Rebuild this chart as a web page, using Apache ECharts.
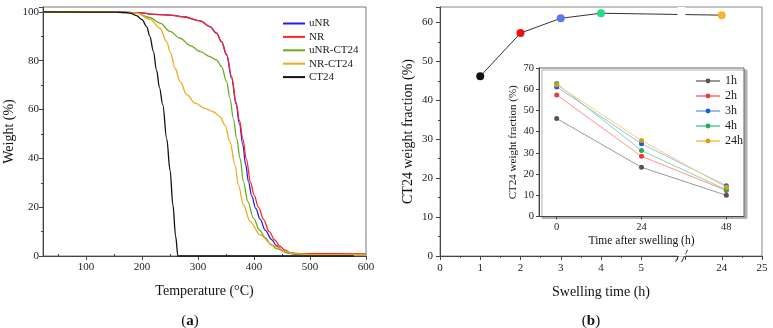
<!DOCTYPE html>
<html>
<head>
<meta charset="utf-8">
<script src="https://cdn.jsdelivr.net/npm/echarts@6.0.0/dist/echarts.min.js"></script>
<style>
  html, body { margin: 0; padding: 0; background: #fff; }
  #chart { width: 773px; height: 328px; }
</style>
</head>
<body>
<div id="chart"></div>
<script>
// (a) TGA curves, [temperature °C, weight %]
const tgaUNR = [[23, 100], [150, 100], [200, 99.6], [214, 99.1], [250, 98.7], [274, 98], [304, 96.3], [321, 94], [333, 91.3], [342, 87.8], [351, 82.4], [360, 72.8], [368, 62], [374, 54], [380, 45.5], [385, 37.5], [390, 30.5], [396, 24.5], [403, 19.5], [411, 15], [420, 10.5], [432, 6.6], [440, 4.2], [449, 2.5], [460, 1.3], [475, 0.7], [600, 0.6]]
const tgaNR = [[23, 100], [150, 100], [200, 99.6], [214, 99.1], [250, 98.7], [274, 98], [304, 96.3], [321, 94], [333, 91.3], [342, 87.8], [351, 82.6], [360, 73.5], [368, 63], [374, 55.5], [380, 48], [386, 40], [394, 30], [400, 25], [408, 20], [417, 15], [427, 10], [437, 6.6], [446, 4], [455, 2.5], [465, 1.3], [480, 1.0], [600, 0.9]]
const tgaUNRCT24 = [[23, 100], [150, 99.9], [190, 99.5], [214, 97.7], [232, 95.4], [250, 92], [268, 89.2], [286, 86.2], [304, 83.7], [321, 81.7], [333, 80.3], [342, 77.6], [351, 71.4], [357, 64.6], [363, 56.4], [369, 48.2], [375, 40], [381, 30.5], [389, 22.3], [399, 15.5], [410, 10.5], [420, 7.5], [430, 4.8], [440, 3], [458, 1.5], [470, 0.9], [500, 0.6], [600, 0.5]]
const tgaNRCT24 = [[23, 100], [150, 99.9], [190, 99.5], [214, 97], [232, 93.3], [244, 87.8], [250, 83.7], [259, 76.9], [268, 71.4], [280, 66], [295, 62.6], [312, 60.5], [327, 59.1], [339, 57.1], [348, 53.7], [357, 46.8], [366, 37.3], [372, 29.1], [381, 20.9], [393, 14.1], [411, 8.6], [434, 4.2], [458, 1.8], [470, 1.0], [500, 0.6], [600, 0.5]]
const tgaCT24 = [[23, 100], [150, 99.9], [170, 99.7], [180, 99.4], [190, 98.5], [200, 96.8], [208, 94], [214, 90], [220, 84], [226, 76], [231, 69], [237, 62], [244, 48], [250, 35], [255, 21], [260, 8], [264, 0], [300, 0], [400, 0], [500, 0], [578, 0]]
const tgaNames = ['uNR', 'NR', 'uNR-CT24', 'NR-CT24', 'CT24']
const tgaColors = ['#1f1fe8', '#ff2424', '#6aaa22', '#f0aa20', '#111111']
const tempLabels = [100, 200, 300, 400, 500, 600]
const tempMinor = [50, 150, 250, 350, 450, 550]

// (b) CT24 weight fraction vs swelling time
const swellHours = [1, 2, 3, 4, 24]
const ct24Fraction = [46.2, 57.3, 61.1, 62.4, 61.9]
const swellColors = ['#111111', '#f01010', '#5a78f0', '#22dd88', '#f5b52a']

// inset: fraction vs time after swelling
const afterHours = [0, 24, 48]
const after1h = [46.2, 23.2, 10.0]
const after2h = [57.3, 28.4, 12.3]
const after3h = [61.1, 34.3, 14.5]
const after4h = [62.7, 31.1, 12.6]
const after24h = [62.1, 35.8, 13.8]
const insetNames = ['1h', '2h', '3h', '4h', '24h']
const insetDots = ['#555555', '#f03a3a', '#1a5ee0', '#22aa66', '#d4a012']
const insetLines = ['#9a9a9a', '#ff9090', '#9dbcf0', '#86d8aa', '#f2d27a']

const font = 'Liberation Serif'
const chart = echarts.init(document.getElementById('chart'))

const tgaSeries = [tgaUNR, tgaNR, tgaUNRCT24, tgaNRCT24, tgaCT24].map((d, i) => ({
  name: tgaNames[i],
  type: 'line',
  xAxisIndex: 0,
  yAxisIndex: 0,
  data: d,
  symbol: 'none',
  smooth: 0.35,
  smoothMonotone: 'x',
  lineStyle: { color: tgaColors[i], width: 1.3 },
  itemStyle: { color: tgaColors[i] },
  z: 3
}))

// inset sits above the break band of the main time axis
const insetZ = 150
const insetSeries = [after1h, after2h, after3h, after4h, after24h].map((vals, i) => ({
  name: insetNames[i],
  type: 'line',
  xAxisIndex: 3,
  yAxisIndex: 2,
  data: afterHours.map((h, k) => [h, vals[k]]),
  symbol: 'circle',
  symbolSize: 5,
  lineStyle: { color: insetLines[i], width: 1 },
  itemStyle: { color: insetDots[i] },
  z: insetZ + 2
}))

const axisText = { color: '#222', fontFamily: font, fontSize: 11 }
const nameText = { color: '#111', fontFamily: font, fontSize: 14 }

chart.setOption({
  animation: false,
  textStyle: { fontFamily: font },
  title: [
    { text: '({a|a})', left: 185, top: 316, textAlign: 'center', textVerticalAlign: 'middle',
      textStyle: { fontSize: 15, fontWeight: 'normal', color: '#111', fontFamily: font, rich: { a: { fontSize: 15, fontWeight: 'bold', fontFamily: font } } } },
    { text: '({a|b})', left: 586, top: 316, textAlign: 'center', textVerticalAlign: 'middle',
      textStyle: { fontSize: 15, fontWeight: 'normal', color: '#111', fontFamily: font, rich: { a: { fontSize: 15, fontWeight: 'bold', fontFamily: font } } } }
  ],
  legend: [
    {
      data: tgaNames, orient: 'vertical', left: 278, top: 13,
      icon: 'rect', itemWidth: 22, itemHeight: 2, itemGap: 2.4,
      textStyle: { fontFamily: font, fontSize: 11, color: '#222', padding: [0, 0, 0, -1] }
    },
    {
      data: insetNames, orient: 'vertical', left: 690, top: 70,
      itemWidth: 24, itemHeight: 6, itemGap: 3,
      textStyle: { fontFamily: font, fontSize: 12, color: '#222' }, z: insetZ + 3
    }
  ],
  grid: [
    { left: 43, top: 7, width: 323, height: 249, show: true, borderColor: '#777', borderWidth: 1, backgroundColor: 'transparent' },
    { left: 440, top: 7, width: 322, height: 249, show: true, borderColor: '#888', borderWidth: 1, backgroundColor: 'transparent' },
    { left: 539, top: 68, width: 205, height: 148.5, show: true, borderColor: '#666', borderWidth: 1, backgroundColor: '#fff',
      shadowColor: '#b0b0b0', shadowOffsetX: 3, shadowOffsetY: 2, shadowBlur: 0, z: insetZ }
  ],
  xAxis: [
    {
      type: 'value', gridIndex: 0, min: 23, max: 600,
      name: 'Temperature (°C)', nameLocation: 'middle', nameGap: 28, nameTextStyle: nameText,
      axisLine: { onZero: false, lineStyle: { color: '#444' } },
      axisTick: { customValues: tempLabels, length: 4, lineStyle: { color: '#444' } },
      axisLabel: { customValues: tempLabels, margin: 6, ...axisText },
      splitLine: { show: false }
    },
    {
      type: 'value', gridIndex: 0, min: 23, max: 600,
      axisLine: { show: false },
      axisTick: { customValues: tempMinor, length: 2, lineStyle: { color: '#444' } },
      axisLabel: { show: false },
      splitLine: { show: false }
    },
    {
      type: 'value', gridIndex: 1, min: 0, max: 25, interval: 1, z: 5,
      name: 'Swelling time (h)', nameLocation: 'middle', nameGap: 29, nameTextStyle: nameText,
      breaks: [{ start: 5.9, end: 23.1, gap: 0.2 }],
      breakArea: {
        show: true, expandOnClick: false, zigzagAmplitude: 0,
        itemStyle: { color: '#fff', borderWidth: 0, borderColor: 'rgba(0,0,0,0)', opacity: 1 }
      },
      axisLine: { onZero: false, lineStyle: { color: '#444' } },
      axisTick: { length: 4, lineStyle: { color: '#444' } },
      minorTick: { show: true, splitNumber: 2, length: 2, lineStyle: { color: '#444' } },
      axisLabel: { margin: 7, ...axisText, formatter: v => (Number.isInteger(v) ? String(v) : '') },
      splitLine: { show: false }
    },
    {
      type: 'value', gridIndex: 2, min: -5, max: 53, z: insetZ + 1,
      name: 'Time after swelling (h)', nameLocation: 'middle', nameGap: 18,
      nameTextStyle: { color: '#111', fontFamily: font, fontSize: 11.5 },
      axisLine: { onZero: false, lineStyle: { color: '#444' } },
      axisTick: { customValues: afterHours, length: 3, lineStyle: { color: '#444' } },
      axisLabel: { customValues: afterHours, margin: 5, ...axisText, fontSize: 10.5 },
      splitLine: { show: false }
    }
  ],
  yAxis: [
    {
      type: 'value', gridIndex: 0, min: 0, max: 102, interval: 20,
      name: 'Weight (%)', nameLocation: 'middle', nameGap: 27, nameTextStyle: nameText,
      axisLine: { show: true, onZero: false, lineStyle: { color: '#444' } },
      axisTick: { show: true, length: 4, lineStyle: { color: '#444' } },
      minorTick: { show: true, splitNumber: 2, length: 2, lineStyle: { color: '#444' } },
      axisLabel: { showMaxLabel: false, margin: 4, ...axisText },
      splitLine: { show: false }
    },
    {
      type: 'value', gridIndex: 1, min: 0, max: 64, interval: 10,
      name: 'CT24 weight fraction (%)', nameLocation: 'middle', nameGap: 25, nameTextStyle: nameText,
      axisLine: { show: true, onZero: false, lineStyle: { color: '#444' } },
      axisTick: { show: true, length: 4, lineStyle: { color: '#444' } },
      minorTick: { show: true, splitNumber: 2, length: 2, lineStyle: { color: '#444' } },
      axisLabel: { showMaxLabel: false, margin: 7, ...axisText },
      splitLine: { show: false }
    },
    {
      type: 'value', gridIndex: 2, min: 0, max: 70, interval: 10, z: insetZ + 1,
      name: 'CT24 weight fraction (%)', nameLocation: 'middle', nameGap: 20,
      nameTextStyle: { color: '#111', fontFamily: font, fontSize: 11 },
      axisLine: { show: true, onZero: false, lineStyle: { color: '#444' } },
      axisTick: { show: true, length: 3, lineStyle: { color: '#444' } },
      axisLabel: { margin: 5, ...axisText, fontSize: 10.5 },
      splitLine: { show: false }
    }
  ],
  series: [
    ...tgaSeries,
    {
      name: 'CT24 fraction',
      type: 'line',
      xAxisIndex: 2,
      yAxisIndex: 1,
      data: swellHours.map((h, i) => ({ value: [h, ct24Fraction[i]], itemStyle: { color: swellColors[i] } })),
      symbol: 'circle',
      symbolSize: 8,
      lineStyle: { color: '#333', width: 1 },
      z: 3
    },
    ...insetSeries
  ]
})

// "//" marks on the broken time axis
const a = chart.convertToPixel({ xAxisIndex: 2 }, 5.9)
const b = chart.convertToPixel({ xAxisIndex: 2 }, 23.1)
const cx = (a + b) / 2
const cy = chart.convertToPixel({ yAxisIndex: 1 }, 0)
chart.setOption({
  graphic: [-3, 3].map(dx => ({
    type: 'line', z: 20,
    shape: { x1: cx + dx - 3, y1: cy + 6, x2: cx + dx + 3, y2: cy - 6 },
    style: { stroke: '#333', lineWidth: 1 }
  }))
})
</script>
</body>
</html>
